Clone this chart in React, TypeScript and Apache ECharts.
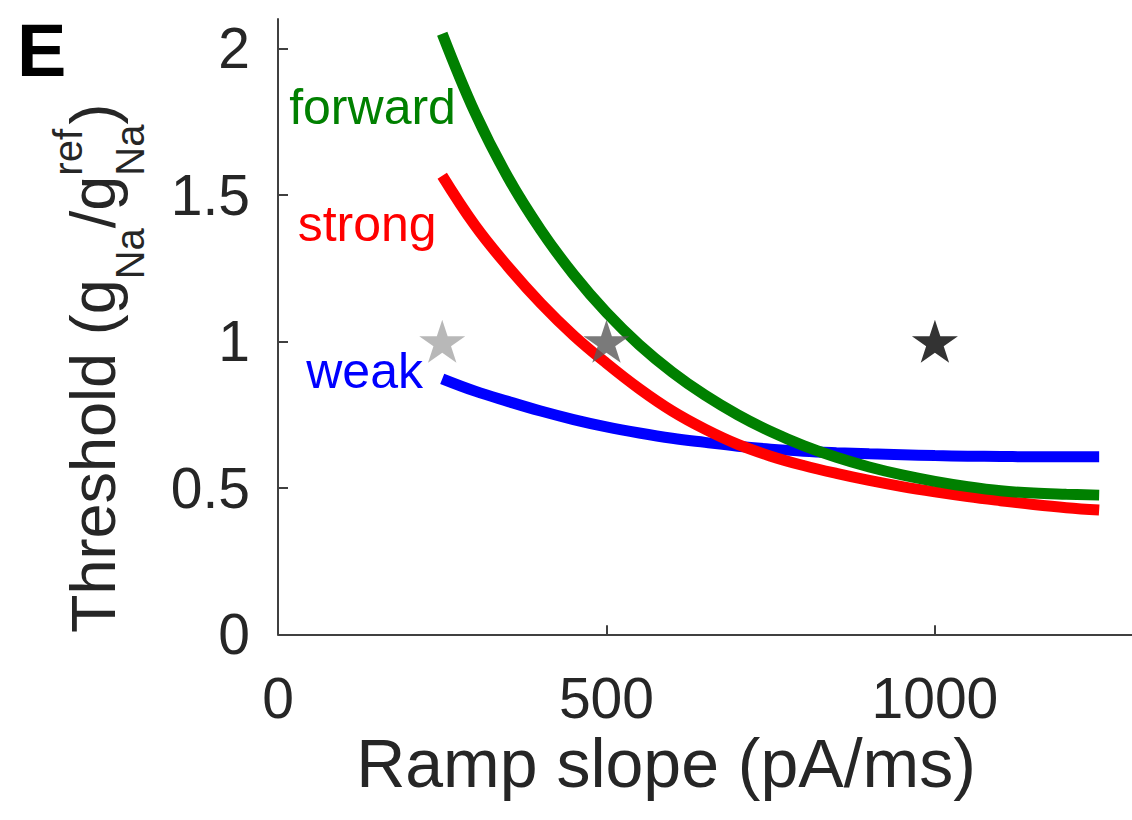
import React, { useEffect, useRef } from "react";
import * as echarts from "echarts";

// Ramp slopes (pA/ms) at which the thresholds were sampled
const rampSlope = [250, 300, 350, 400, 450, 500, 550, 600, 650, 700, 750, 800, 850, 900, 950, 1000, 1050, 1100, 1150, 1200, 1250];

// Threshold g_Na / g_Na^ref for each coupling type
const forwardThreshold = [2.05, 1.78, 1.56, 1.38, 1.228, 1.098, 0.988, 0.895, 0.816, 0.749, 0.692, 0.644, 0.604, 0.571, 0.544, 0.522, 0.504, 0.49, 0.482, 0.478, 0.475];
const strongThreshold = [1.565, 1.395, 1.255, 1.13, 1.02, 0.925, 0.838, 0.762, 0.7, 0.648, 0.608, 0.576, 0.549, 0.525, 0.504, 0.486, 0.47, 0.456, 0.443, 0.432, 0.424];
const weakThreshold = [0.872, 0.83, 0.795, 0.762, 0.733, 0.708, 0.687, 0.669, 0.655, 0.642, 0.632, 0.625, 0.62, 0.616, 0.613, 0.61, 0.608, 0.607, 0.606, 0.606, 0.606];

// Reference cells (starred)
const starSlope = [250, 500, 1000];
const starThreshold = [1, 1, 1];
const starColor = ["#a6a6a6", "#595959", "#000000"];

// Axis ticks
const xTicks = [0, 500, 1000];
const yTicks = [0, 0.5, 1, 1.5, 2];

const FONT = '"Liberation Sans", Arial, Helvetica, sans-serif';
const STAR =
  "path://M50,0 L61.2,34.5 L97.6,34.5 L68.2,55.9 L79.4,90.5 L50,69.1 L20.6,90.5 L31.8,55.9 L2.4,34.5 L38.8,34.5 Z";

const pair = (xs: number[], ys: number[]) => xs.map((x, i) => [x, ys[i]]);

let measureCtx: CanvasRenderingContext2D | null = null;
function textWidth(text: string, size: number) {
  if (!measureCtx) measureCtx = document.createElement("canvas").getContext("2d");
  if (!measureCtx) return text.length * size * 0.55;
  measureCtx.font = `${size}px ${FONT}`;
  return measureCtx.measureText(text).width;
}

// Rotated y-axis title with sub- and superscripts: Threshold (g_Na / g_Na^ref)
function yTitle() {
  const big = 63;
  const small = 40;
  const central = 0.3465;
  const mainX = 115 - central * big;
  const subX = 144 - central * small;
  const supX = 82 - central * small;
  const parts: any[] = [];
  let y = 633;
  const put = (text: string, size: number, x: number) => {
    parts.push({
      type: "text",
      x,
      y,
      rotation: Math.PI / 2,
      style: { text, fill: "#262626", font: `${size}px ${FONT}`, align: "left", verticalAlign: "middle" },
    });
  };
  put("Threshold (g", big, mainX);
  y -= textWidth("Threshold (g", big);
  put("Na", small, subX);
  y -= textWidth("Na", small);
  put("/g", big, mainX);
  y -= textWidth("/g", big);
  put("Na", small, subX);
  put("ref", small, supX);
  y -= Math.max(textWidth("Na", small), textWidth("ref", small));
  put(")", big, mainX);
  return parts;
}

function curve(name: string, values: number[], color: string, label: string, at: number[]) {
  return {
    name,
    type: "line",
    data: pair(rampSlope, values),
    showSymbol: false,
    smooth: 0.4,
    lineStyle: { color, width: 11, cap: "butt" },
    z: 2,
    markPoint: {
      symbol: "circle",
      symbolSize: 0,
      silent: true,
      data: [
        {
          coord: at,
          label: {
            show: true,
            formatter: label,
            position: "right",
            distance: 0,
            color,
            fontSize: 50,
            fontFamily: FONT,
          },
        },
      ],
    },
  };
}

export default function App() {
  const ref = useRef<HTMLDivElement>(null);

  useEffect(() => {
    if (!ref.current) return;
    const chart = echarts.init(ref.current, undefined, { renderer: "svg" });
    const axisColor = "#404040";
    const tickLabel = { color: "#262626", fontSize: 57, fontFamily: FONT };

    chart.setOption({
      animation: false,
      backgroundColor: "#ffffff",
      grid: { left: 278, top: 19, width: 856.7, height: 615.3, containLabel: false },
      xAxis: {
        type: "value",
        min: 0,
        max: 1300,
        interval: 500,
        splitLine: { show: false },
        axisLine: { show: true, onZero: false, lineStyle: { color: axisColor, width: 2 } },
        axisTick: { show: true, inside: true, length: 9, lineStyle: { color: axisColor, width: 2 } },
        axisLabel: {
          ...tickLabel,
          margin: 35,
          showMaxLabel: false,
          formatter: (v: number) => (xTicks.includes(v) ? String(v) : ""),
        },
      },
      yAxis: {
        type: "value",
        min: 0,
        max: 2.1,
        interval: 0.5,
        splitLine: { show: false },
        axisLine: { show: true, onZero: false, lineStyle: { color: axisColor, width: 2 } },
        axisTick: { show: true, inside: true, length: 10, lineStyle: { color: axisColor, width: 2 } },
        axisLabel: {
          ...tickLabel,
          margin: 28,
          showMaxLabel: false,
          formatter: (v: number) => (yTicks.includes(v) ? String(v) : ""),
        },
      },
      series: [
        curve("weak", weakThreshold, "#0000ff", "weak", [43, 0.9]),
        curve("strong", strongThreshold, "#ff0000", "strong", [30, 1.4]),
        curve("forward", forwardThreshold, "#008000", "forward", [17, 1.8]),
        {
          name: "reference",
          type: "scatter",
          symbol: STAR,
          symbolSize: [46, 43],
          z: 5,
          data: pair(starSlope, starThreshold).map((p, i) => ({
            value: p,
            itemStyle: { color: starColor[i] },
          })),
        },
      ],
      graphic: [
        {
          type: "text",
          x: 17,
          y: 50,
          style: { text: "E", fill: "#000", font: `bold 74px ${FONT}`, align: "left", verticalAlign: "middle" },
        },
        {
          type: "text",
          x: 666,
          y: 763,
          style: {
            text: "Ramp slope (pA/ms)",
            fill: "#262626",
            font: `68px ${FONT}`,
            align: "center",
            verticalAlign: "middle",
          },
        },
        ...yTitle(),
      ],
    });

    return () => chart.dispose();
  }, []);

  return (
    <div
      ref={ref}
      style={{ position: "fixed", left: 0, top: 0, width: 1132, height: 820, background: "#fff" }}
    />
  );
}
